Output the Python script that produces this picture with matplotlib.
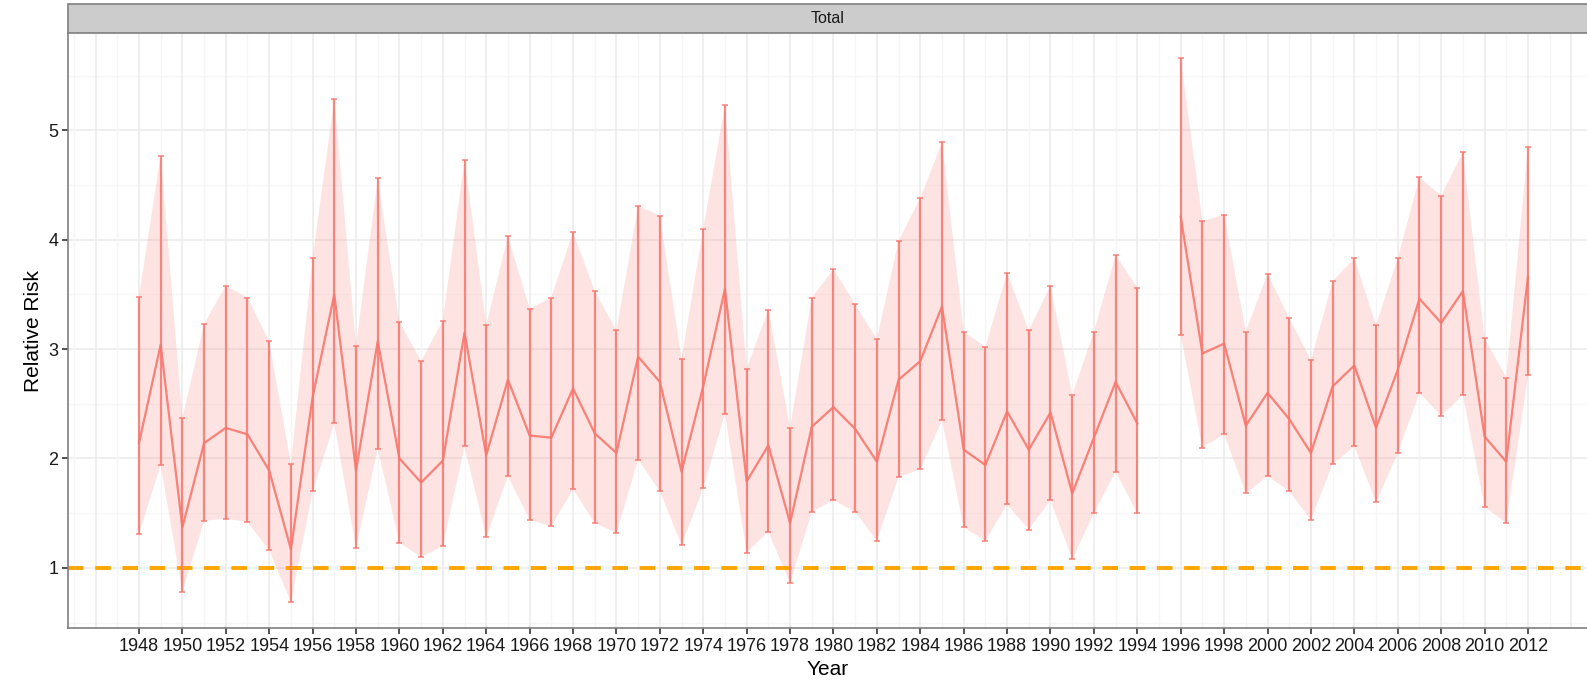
import numpy as np
import matplotlib
matplotlib.use("Agg")
import matplotlib.pyplot as plt
from matplotlib.patches import Rectangle

years = list(range(1948, 2013))
rr = [2.14, 3.04, 1.37, 2.14, 2.28, 2.22, 1.89, 1.17, 2.56, 3.50,
      1.89, 3.07, 2.00, 1.78, 1.98, 3.15, 2.03, 2.72, 2.21, 2.19,
      2.64, 2.23, 2.05, 2.93, 2.70, 1.88, 2.66, 3.55, 1.79, 2.12,
      1.41, 2.29, 2.47, 2.27, 1.97, 2.72, 2.89, 3.39, 2.08, 1.94,
      2.43, 2.08, 2.42, 1.68, 2.19, 2.70, 2.32, np.nan, 4.21, 2.96,
      3.05, 2.30, 2.60, 2.36, 2.05, 2.66, 2.85, 2.28, 2.81, 3.46,
      3.24, 3.53, 2.20, 1.97, 3.66]
lower = [1.31, 1.94, 0.78, 1.43, 1.45, 1.42, 1.16, 0.69, 1.70, 2.32,
         1.18, 2.09, 1.23, 1.10, 1.20, 2.11, 1.28, 1.84, 1.44, 1.38,
         1.72, 1.41, 1.32, 1.99, 1.70, 1.21, 1.73, 2.41, 1.14, 1.33,
         0.86, 1.51, 1.62, 1.51, 1.25, 1.83, 1.90, 2.35, 1.37, 1.25,
         1.58, 1.35, 1.62, 1.08, 1.50, 1.88, 1.50, np.nan, 3.13, 2.10,
         2.22, 1.68, 1.84, 1.70, 1.44, 1.95, 2.11, 1.60, 2.05, 2.60,
         2.39, 2.58, 1.56, 1.41, 2.76]
upper = [3.48, 4.77, 2.37, 3.23, 3.58, 3.47, 3.07, 1.95, 3.83, 5.29,
         3.03, 4.56, 3.25, 2.89, 3.26, 4.73, 3.22, 4.03, 3.37, 3.47,
         4.07, 3.53, 3.17, 4.31, 4.22, 2.91, 4.10, 5.23, 2.82, 3.36,
         2.28, 3.47, 3.73, 3.41, 3.09, 3.99, 4.38, 4.89, 3.16, 3.02,
         3.70, 3.17, 3.58, 2.58, 3.16, 3.86, 3.56, np.nan, 5.66, 4.17,
         4.23, 3.16, 3.69, 3.28, 2.90, 3.62, 3.83, 3.22, 3.83, 4.57,
         4.40, 4.80, 3.10, 2.74, 4.85]
x_tick_labels = [str(y) for y in range(1948, 2013, 2)]
y_ticks = [1, 2, 3, 4, 5]
reference_value = 1
panel_label = "Total"

x = np.array(years, dtype=float)
rr = np.array(rr); lower = np.array(lower); upper = np.array(upper)

plt.rcParams['font.family'] = ['Liberation Sans', 'DejaVu Sans']

W, H = 1587, 682
fig = plt.figure(figsize=(W / 100, H / 100), dpi=100)
left, right, bottom, top = 68, 1587, 628, 33
ax = fig.add_axes([left / W, (H - bottom) / H, (right - left) / W, (bottom - top) / H])

ax.set_xlim(1944.73, 2014.72)
ax.set_ylim(0.45, 5.89)

# grid
for yv in np.arange(0.5, 6.0, 0.5):
    major = float(yv).is_integer()
    ax.axhline(yv, color='#ebebeb' if major else '#f7f7f7', lw=1.1 if major else 0.9, zorder=0)
for xv in range(1945, 2015):
    major = xv % 2 == 0
    ax.axvline(xv, color='#ebebeb' if major else '#f5f5f5', lw=1.1 if major else 0.9, zorder=0)

col = '#F8766D'
ax.fill_between(x, lower, upper, color=col, alpha=0.2, lw=0, zorder=1)
ax.axhline(reference_value, color='#FFA500', lw=2.8, ls=(0, (4, 3)), zorder=2)
ax.errorbar(x, rr, yerr=[rr - lower, upper - rr], fmt='none', ecolor=col,
            elinewidth=1.6, capsize=2.2, capthick=1.2, alpha=0.85, zorder=3)
ax.plot(x, rr, color=col, lw=1.6, alpha=0.9, zorder=4)

ax.set_xticks([int(t) for t in x_tick_labels])
ax.set_xticklabels(x_tick_labels, fontsize=13, color='#1a1a1a')
ax.set_yticks(y_ticks)
ax.set_yticklabels([str(v) for v in y_ticks], fontsize=13, color='#1a1a1a')
ax.tick_params(axis='both', length=4, width=1.2, color='#333333', pad=3)

for s in ['top', 'right']:
    ax.spines[s].set_visible(False)
for s in ['left', 'bottom']:
    ax.spines[s].set_color('#7f7f7f')
    ax.spines[s].set_linewidth(1.2)

ax.set_xlabel('Year', fontsize=15, labelpad=4)
ax.set_ylabel('Relative Risk', fontsize=15, labelpad=4)

# facet strip
strip_top = 4
sax = fig.add_axes([left / W, (H - top) / H, (right - left) / W, (top - strip_top) / H])
sax.set_xlim(0, 1); sax.set_ylim(0, 1)
sax.axis('off')
sax.add_patch(Rectangle((0, 0), 1.2, 1, facecolor='#cccccc', edgecolor='#7f7f7f', lw=1.2,
                        transform=sax.transAxes, clip_on=False))
sax.text(0.5, 0.5, panel_label, ha='center', va='center', fontsize=11.5, color='#1a1a1a')

fig.savefig('out.png', dpi=100)
